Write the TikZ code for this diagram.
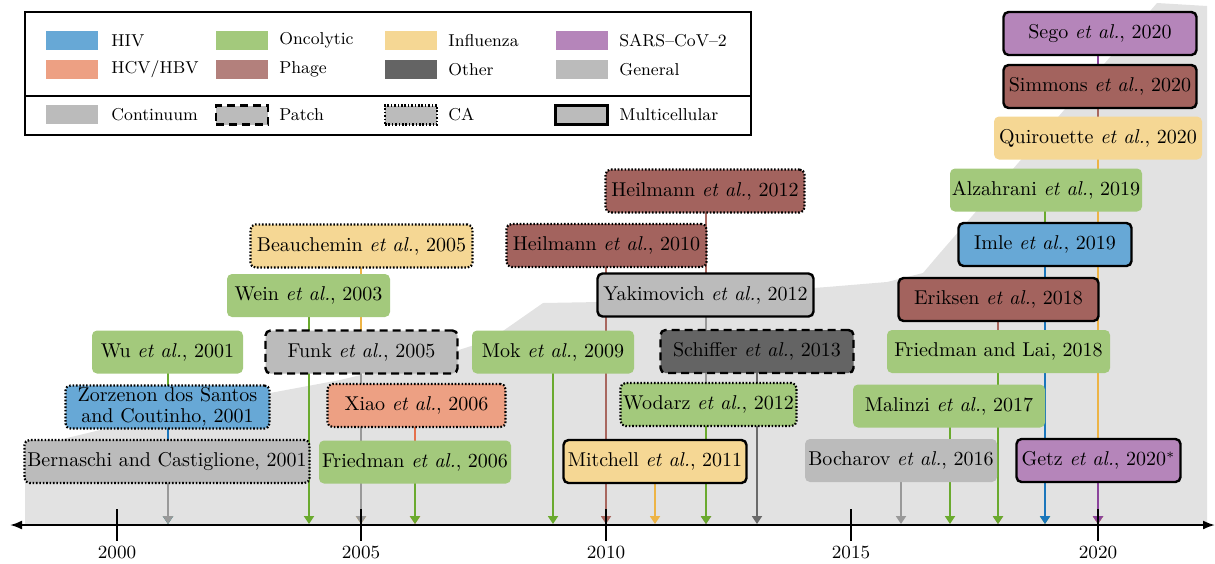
\documentclass[tikz,border=0pt]{standalone}
\usetikzlibrary{arrows.meta}
\pgfdeclarelayer{bgarea}
\pgfdeclarelayer{links}
\pgfsetlayers{bgarea,links,main}

\definecolor{hivF}{HTML}{67A8D6}\definecolor{hivL}{HTML}{1A76BC}
\definecolor{oncF}{HTML}{A3C97C}\definecolor{oncL}{HTML}{6AAA2E}
\definecolor{fluF}{HTML}{F5D794}\definecolor{fluL}{HTML}{EDB446}
\definecolor{sarsF}{HTML}{B585BA}\definecolor{sarsL}{HTML}{8B449C}
\definecolor{hcvF}{HTML}{EDA083}\definecolor{hcvL}{HTML}{E5704C}
\definecolor{phgF}{HTML}{A3635E}\definecolor{phgLeg}{HTML}{B3807C}\definecolor{phgL}{HTML}{A8675F}
\definecolor{othF}{HTML}{646464}\definecolor{othL}{HTML}{6A6A6A}
\definecolor{genF}{HTML}{BBBBBB}\definecolor{genL}{HTML}{999999}
\definecolor{bgc}{HTML}{E2E2E2}

\tikzset{
  paper/.style={rounded corners=2.5pt, minimum height=21.5pt, inner sep=0pt,
    font=\fontsize{10}{12}\selectfont, text=black},
  cont/.style={draw=none},
  patch/.style={draw=black, line width=1.2pt, dash pattern=on 4pt off 2.5pt},
  ca/.style={draw=black, line width=1.1pt, dash pattern=on 0.8pt off 0.9pt},
  multi/.style={draw=black, line width=1.2pt},
  link/.style={line width=0.9pt, -{Triangle[length=4pt,width=5pt]}},
  swatch/.style={minimum width=26pt, minimum height=9.5pt, inner sep=0pt},
  leglabel/.style={anchor=west, inner sep=0pt, font=\fontsize{8.6}{10}\selectfont},
  yearlabel/.style={inner sep=0pt, font=\fontsize{9.3}{11}\selectfont},
}

\begin{document}
\begin{tikzpicture}[x=0.5pt,y=-0.5pt]
\useasboundingbox (0,0) rectangle (1215,563);

% background cumulative area
\begin{pgfonlayer}{bgarea}
\fill[bgc] (25,525) -- (25,450) -- (67,438) -- (200,406) -- (340,380) -- (440,356)
  -- (490,340) -- (543,303) -- (600,302) -- (813,288) -- (827,287) -- (887,282)
  -- (923,273) -- (940,253) -- (1157,3) -- (1207,6) -- (1207,525) -- cycle;
\end{pgfonlayer}

% legend
\draw[line width=1pt] (25,12) rectangle (751,135);
\draw[line width=1pt] (25,96) -- (751,96);
\node[swatch,fill=hivF] (sw1) at (72,40.5) {};
\node[leglabel] (lb1) at (111,40.5) {HIV};
\node[swatch,fill=oncF] (sw2) at (242,40.5) {};
\node[leglabel] (lb2) at (279,40.5) {Oncolytic};
\node[swatch,fill=fluF] (sw3) at (411,40.5) {};
\node[leglabel] (lb3) at (448,40.5) {Influenza};
\node[swatch,fill=sarsF] (sw4) at (581.5,40.5) {};
\node[leglabel] (lb4) at (619,40.5) {SARS--CoV--2};
\node[swatch,fill=hcvF] (sw5) at (72,69.5) {};
\node[leglabel] (lb5) at (111,69.5) {HCV/HBV};
\node[swatch,fill=phgLeg] (sw6) at (242,69.5) {};
\node[leglabel] (lb6) at (279,69.5) {Phage};
\node[swatch,fill=othF] (sw7) at (411,69.5) {};
\node[leglabel] (lb7) at (448,69.5) {Other};
\node[swatch,fill=genF] (sw8) at (581.5,69.5) {};
\node[leglabel] (lb8) at (619,69.5) {General};
\node[swatch,fill=genF] (sw9) at (72,114.5) {};
\node[leglabel] (lb9) at (111,114.5) {Continuum};
\node[swatch,fill=genF,patch,minimum height=9.5pt] (sw10) at (242,115) {};
\node[leglabel] (lb10) at (279,114.5) {Patch};
\node[swatch,fill=genF,ca] (sw11) at (411,115) {};
\node[leglabel] (lb11) at (448,114.5) {CA};
\node[swatch,fill=genF,multi] (sw12) at (581.5,115) {};
\node[leglabel] (lb12) at (619,114.5) {Multicellular};

% axis
\coordinate (axL) at (10,525);
\coordinate (axR) at (1215,525);
\draw[line width=1pt,{Latex[length=6pt,width=4.5pt]}-{Latex[length=6pt,width=4.5pt]}] (axL) -- (axR);
\foreach \yr/\xx in {2000/117,2005/361,2010/606,2015/851,2020/1098}{
  \draw[line width=1pt] (\xx,509) -- (\xx,541);
  \node[yearlabel] (t\yr) at (\xx,552) {\yr};
}

% year coordinates on the axis
\coordinate (c2001) at (168,524);
\coordinate (c2004) at (309,524);
\coordinate (c2005) at (361,524);
\coordinate (c2006) at (415,524);
\coordinate (c2009) at (553,524);
\coordinate (c2010) at (606,524);
\coordinate (c2011) at (655,524);
\coordinate (c2012) at (706,524);
\coordinate (c2013) at (757,524);
\coordinate (c2016) at (901,524);
\coordinate (c2017) at (950,524);
\coordinate (c2018) at (998,524);
\coordinate (c2019) at (1045,524);
\coordinate (c2020) at (1098,524);

% papers
\node[paper,cont,fill=oncF,minimum width=75.5pt] (wu) at (167.5,352) {Wu \textit{et al.}, 2001};
\node[paper,ca,fill=hivF,minimum width=102pt,align=center,font=\fontsize{10}{10.5}\selectfont] (zor) at (167.5,407) {Zorzenon dos Santos\\and Coutinho, 2001};
\node[paper,ca,fill=genF,minimum width=142.5pt] (bern) at (167,461.5) {Bernaschi and Castiglione, 2001};
\node[paper,ca,fill=fluF,minimum width=111pt] (beau) at (361.5,246) {Beauchemin \textit{et al.}, 2005};
\node[paper,cont,fill=oncF,minimum width=81.5pt] (wein) at (308.5,295.5) {Wein \textit{et al.}, 2003};
\node[paper,patch,fill=genF,minimum width=96pt] (funk) at (361.5,352) {Funk \textit{et al.}, 2005};
\node[paper,ca,fill=hcvF,minimum width=89pt] (xiao) at (416.5,405.5) {Xiao \textit{et al.}, 2006};
\node[paper,cont,fill=oncF,minimum width=96pt] (fried) at (415,462) {Friedman \textit{et al.}, 2006};
\node[paper,ca,fill=phgF,minimum width=99.5pt] (heilb) at (705,191) {Heilmann \textit{et al.}, 2012};
\node[paper,ca,fill=phgF,minimum width=100pt] (heila) at (606.5,245.5) {Heilmann \textit{et al.}, 2010};
\node[paper,multi,fill=genF,minimum width=108pt] (yaki) at (705.5,295) {Yakimovich \textit{et al.}, 2012};
\node[paper,cont,fill=oncF,minimum width=81pt] (mok) at (553,352) {Mok \textit{et al.}, 2009};
\node[paper,patch,fill=othF,minimum width=96.5pt] (schif) at (757,351.5) {Schiffer \textit{et al.}, 2013};
\node[paper,ca,fill=oncF,minimum width=88pt] (wod) at (708.5,404.5) {Wodarz \textit{et al.}, 2012};
\node[paper,multi,fill=fluF,minimum width=91.5pt] (mitch) at (655,461.5) {Mitchell \textit{et al.}, 2011};
\node[paper,cont,fill=genF,minimum width=96pt] (boch) at (901,460.5) {Bocharov \textit{et al.}, 2016};
\node[paper,cont,fill=oncF,minimum width=96pt] (mal) at (949,406) {Malinzi \textit{et al.}, 2017};
\node[paper,cont,fill=oncF,minimum width=111.5pt] (fl) at (998.5,351.5) {Friedman and Lai, 2018};
\node[paper,multi,fill=phgF,minimum width=100pt] (erik) at (998.5,299.5) {Eriksen \textit{et al.}, 2018};
\node[paper,multi,fill=hivF,minimum width=86.5pt] (imle) at (1045,244.5) {Imle \textit{et al.}, 2019};
\node[paper,cont,fill=oncF,minimum width=96pt] (alz) at (1046,190) {Alzahrani \textit{et al.}, 2019};
\node[paper,cont,fill=fluF,minimum width=104pt] (quir) at (1098,138) {Quirouette \textit{et al.}, 2020};
\node[paper,multi,fill=phgF,minimum width=96.5pt] (simm) at (1100,86.5) {Simmons \textit{et al.}, 2020};
\node[paper,multi,fill=sarsF,minimum width=96.5pt] (sego) at (1100,33.5) {Sego \textit{et al.}, 2020};
\node[paper,multi,fill=sarsF,minimum width=82pt] (getz) at (1098.5,460.5) {Getz \textit{et al.}, 2020$^*$};

% links (drawn behind the boxes, top of each column first)
\begin{pgfonlayer}{links}
\draw[link,oncL] (c2001 |- wu.center) -- (c2001);
\draw[link,hivL] (c2001 |- zor.center) -- (c2001);
\draw[link,genL] (c2001 |- bern.center) -- (c2001);
\draw[link,oncL] (c2004 |- wein.center) -- (c2004);
\draw[link,fluL] (c2005 |- beau.center) -- (c2005);
\draw[link,genL] (c2005 |- funk.center) -- (c2005);
\draw[link,hcvL] (c2006 |- xiao.center) -- (c2006);
\draw[link,oncL] (c2006 |- fried.center) -- (c2006);
\draw[link,oncL] (c2009 |- mok.center) -- (c2009);
\draw[link,phgL] (c2010 |- heila.center) -- (c2010);
\draw[link,fluL] (c2011 |- mitch.center) -- (c2011);
\draw[link,phgL] (c2012 |- heilb.center) -- (c2012);
\draw[link,genL] (c2012 |- yaki.center) -- (c2012);
\draw[link,oncL] (c2012 |- wod.center) -- (c2012);
\draw[link,othL] (c2013 |- schif.center) -- (c2013);
\draw[link,genL] (c2016 |- boch.center) -- (c2016);
\draw[link,oncL] (c2017 |- mal.center) -- (c2017);
\draw[link,phgL] (c2018 |- erik.center) -- (c2018);
\draw[link,oncL] (c2018 |- fl.center) -- (c2018);
\draw[link,oncL] (c2019 |- alz.center) -- (c2019);
\draw[link,hivL] (c2019 |- imle.center) -- (c2019);
\draw[link,sarsL] (c2020 |- sego.center) -- (c2020);
\draw[link,phgL] (c2020 |- simm.center) -- (c2020);
\draw[link,fluL] (c2020 |- quir.center) -- (c2020);
\draw[link,sarsL] (c2020 |- getz.center) -- (c2020);
\end{pgfonlayer}
\end{tikzpicture}
\end{document}
